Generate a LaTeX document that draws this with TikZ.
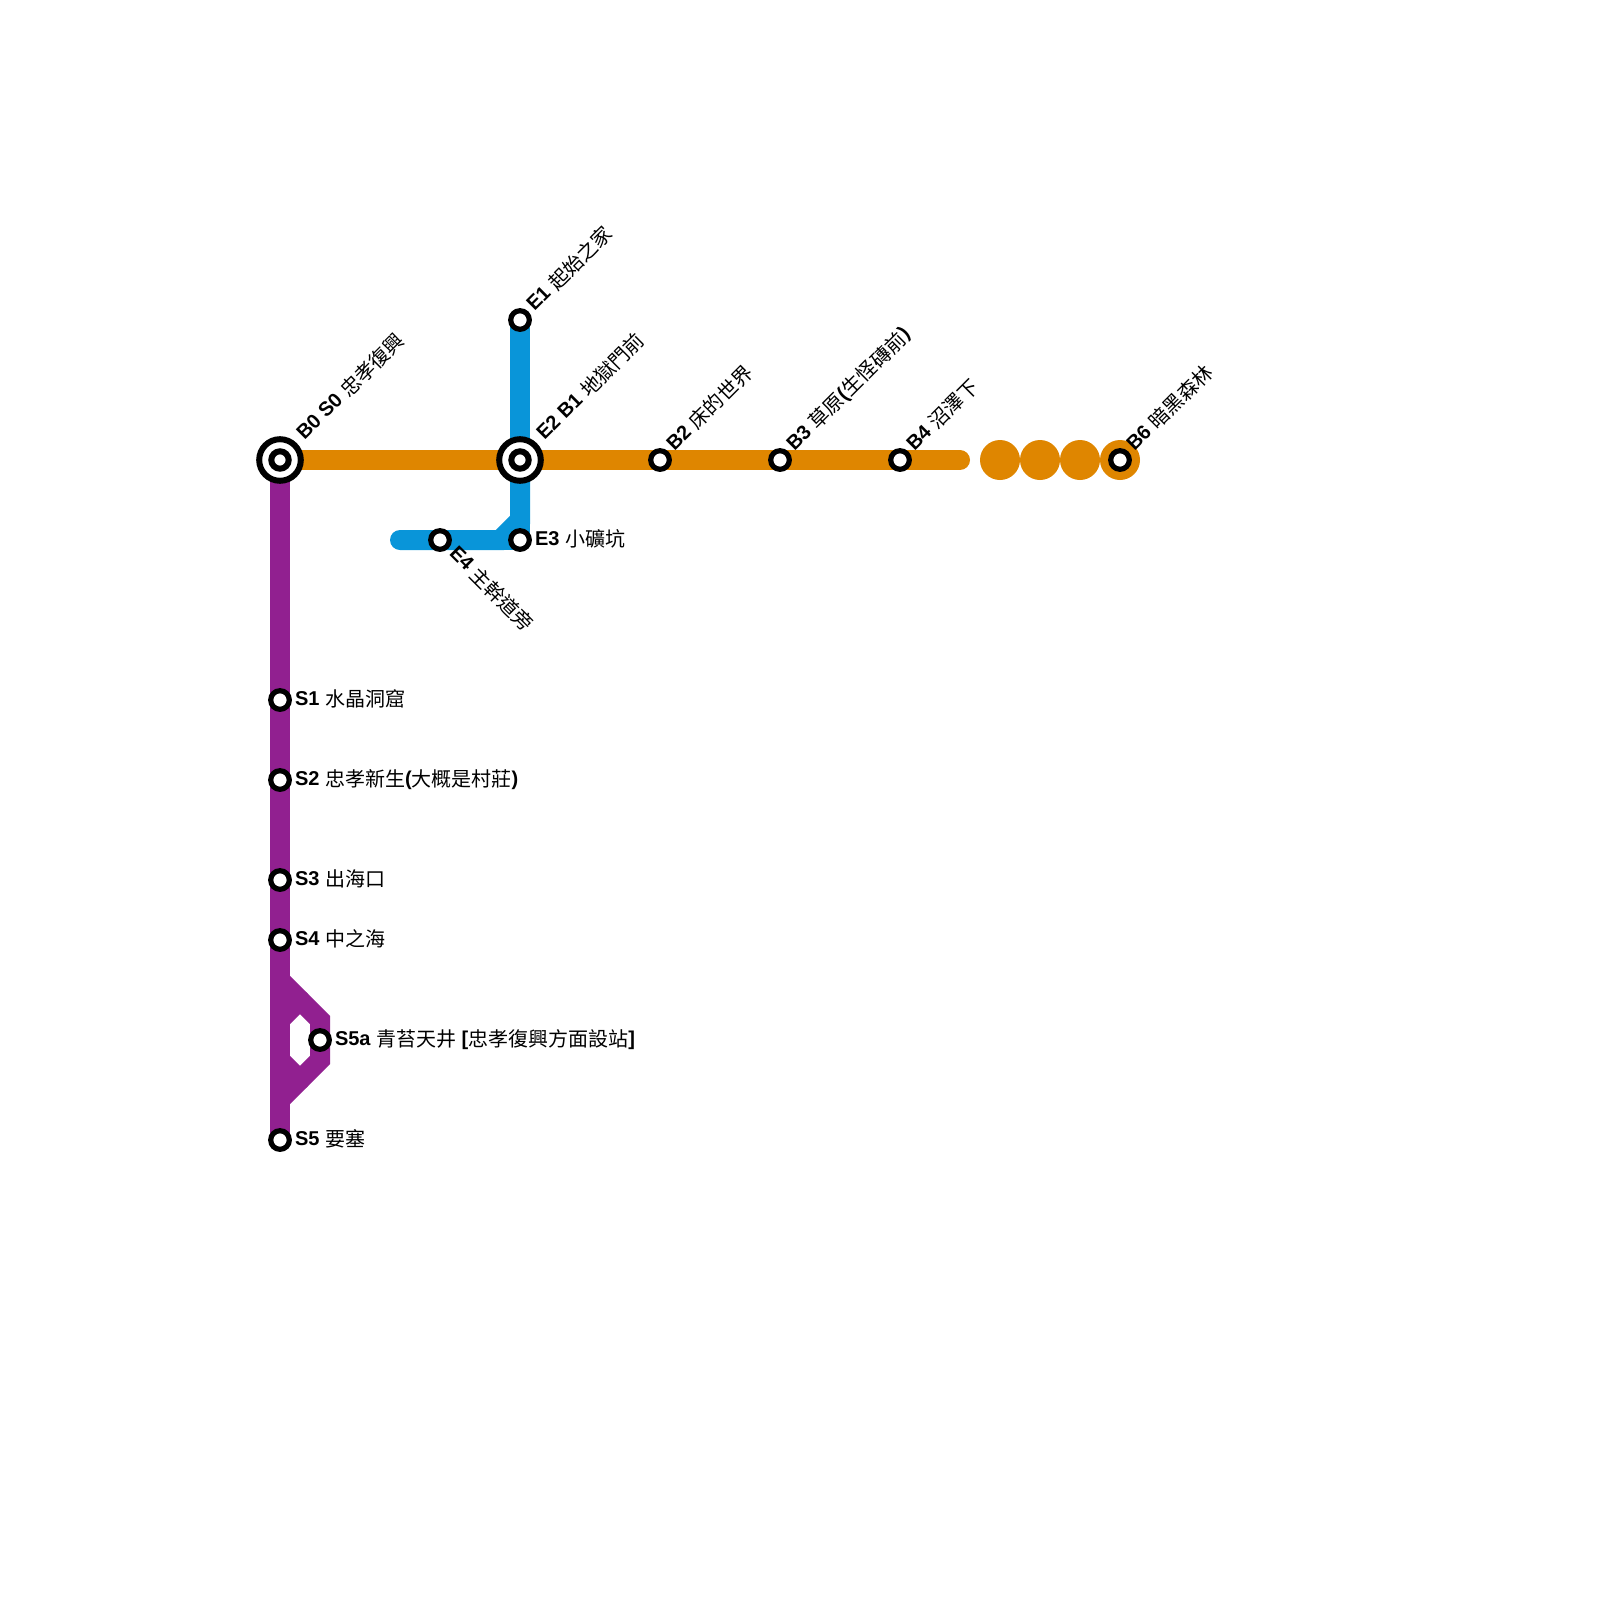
\documentclass[tikz,border=0pt]{standalone}
\usepackage{fontspec}
\setmainfont{Liberation Sans}
\newfontfamily\cjk{Noto Sans CJK TC}
\usetikzlibrary{backgrounds}
\definecolor{lineorange}{RGB}{223,134,0}
\definecolor{lineblue}{RGB}{9,149,217}
\definecolor{linepurple}{RGB}{145,32,144}
\newcommand\zh[1]{\raisebox{-1.8pt}{\cjk #1}}
\newcommand\idt[1]{{\bfseries #1}}
\tikzset{
  stn/.style={circle,draw=black,fill=white,line width=5.2pt,minimum size=18.6pt,inner sep=0pt,outer sep=0pt},
  hub/.style={circle,draw=black,fill=white,line width=6pt,minimum size=41.6pt,inner sep=0pt,outer sep=0pt},
  hubin/.style={circle,draw=black,fill=white,line width=6pt,minimum size=17.4pt,inner sep=0pt,outer sep=0pt},
  disk/.style={circle,fill=lineorange,minimum size=40pt,inner sep=0pt,outer sep=0pt},
  lbl/.style={anchor=base west,inner sep=0pt,outer sep=0pt,font=\fontsize{20pt}{24pt}\selectfont,text=black},
  seg/.style={line width=20pt,line cap=round,miter limit=10}
}
\begin{document}
\begin{tikzpicture}[x=1pt,y=-1pt]
\useasboundingbox (0,0) rectangle (1600,1600);
\node[disk] (D1) at (1000,460) {};
\node[disk] (D2) at (1040,460) {};
\node[disk] (D3) at (1080,460) {};
\node[disk] (D4) at (1120,460) {};
\node[hub] (B0) at (280,460) {};
\node[hubin] (B0i) at (280,460) {};
\node[hub] (E2) at (520,460) {};
\node[hubin] (E2i) at (520,460) {};
\node[stn] (E1) at (520,320) {};
\node[stn] (E3) at (520,540) {};
\node[stn] (E4) at (440,540) {};
\node[stn] (B2) at (660,460) {};
\node[stn] (B3) at (780,460) {};
\node[stn] (B4) at (900,460) {};
\node[stn] (B6) at (1120,460) {};
\node[stn] (S1) at (280,700) {};
\node[stn] (S2) at (280,780) {};
\node[stn] (S3) at (280,880) {};
\node[stn] (S4) at (280,940) {};
\node[stn] (S5a) at (320,1040) {};
\node[stn] (S5) at (280,1140) {};
\coordinate (Oend) at (960,460);
\coordinate (Eend) at (400,540);
\coordinate (Ebend) at (520,520);
\coordinate (Ebend2) at (500,540);
\coordinate (Sa) at (280,980);
\coordinate (Sb) at (320,1020);
\coordinate (Sc) at (320,1060);
\coordinate (Sd) at (280,1100);
\coordinate (Sf1) at (280,1020);
\coordinate (Sf2) at (300,1000);
\coordinate (Sf3) at (280,1060);
\coordinate (Sf4) at (300,1080);
\begin{pgfonlayer}{background}
\draw[seg,linepurple] (B0.center) -- (S1.center) -- (S2.center) -- (S3.center) -- (S4.center) -- (S5.center);
\draw[seg,linepurple] (Sa) -- (Sb) -- (S5a.center) -- (Sc) -- (Sd);
\draw[seg,linepurple] (Sf1) -- (Sf2);
\draw[seg,linepurple] (Sf3) -- (Sf4);
\draw[seg,lineblue] (E1.center) -- (E2.center) -- (E3.center);
\draw[seg,lineblue] (E2.center) -- (Ebend) -- (Ebend2) -- (E4.center) -- (Eend);
\draw[seg,lineblue] (E3.center) -- (E4.center);
\draw[seg,lineorange] (B0.center) -- (E2.center) -- (B2.center) -- (B3.center) -- (B4.center) -- (Oend);
\end{pgfonlayer}
\node[lbl,rotate=45] (lB0) at (304.5,440.5) {\idt{B0 S0} \zh{忠孝復興}};
\node[lbl,rotate=45] (lE1) at (534.5,311.5) {\idt{E1} \zh{起始之家}};
\node[lbl,rotate=45] (lE2) at (544.5,440.5) {\idt{E2 B1} \zh{地獄門前}};
\node[lbl,rotate=45] (lB2) at (674.5,451.5) {\idt{B2} \zh{床的世界}};
\node[lbl,rotate=45] (lB3) at (794.5,451.5) {\idt{B3} \zh{草原}\idt{(}\zh{生怪磚前}\idt{)}};
\node[lbl,rotate=45] (lB4) at (914.5,451.5) {\idt{B4} \zh{沼澤下}};
\node[lbl,rotate=45] (lB6) at (1134.5,451.5) {\idt{B6} \zh{暗黑森林}};
\node[lbl] (lE3) at (535,545) {\idt{E3} \zh{小礦坑}};
\node[lbl,rotate=-45] (lE4) at (448.5,554) {\idt{E4} \zh{主幹道旁}};
\node[lbl] (lS1) at (295,705) {\idt{S1} \zh{水晶洞窟}};
\node[lbl] (lS2) at (295,785) {\idt{S2} \zh{忠孝新生}\idt{(}\zh{大概是村莊}\idt{)}};
\node[lbl] (lS3) at (295,885) {\idt{S3} \zh{出海口}};
\node[lbl] (lS4) at (295,945) {\idt{S4} \zh{中之海}};
\node[lbl] (lS5a) at (335,1045) {\idt{S5a} \zh{青苔天井} \idt{[}\zh{忠孝復興方面設站}\idt{]}};
\node[lbl] (lS5) at (295,1145) {\idt{S5} \zh{要塞}};
\end{tikzpicture}
\end{document}
